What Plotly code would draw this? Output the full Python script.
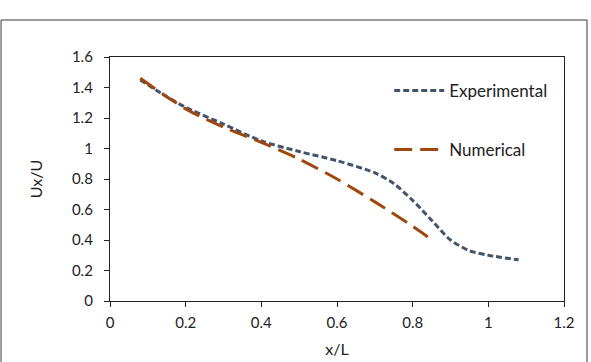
import plotly.graph_objects as go

exp_x = [0.08, 0.15, 0.2, 0.3, 0.4, 0.5, 0.6, 0.7, 0.75, 0.8, 0.85, 0.9, 0.95, 1.0, 1.08]
exp_y = [1.45, 1.34, 1.27, 1.16, 1.05, 0.98, 0.92, 0.84, 0.77, 0.66, 0.53, 0.40, 0.33, 0.30, 0.27]

num_x = [0.08, 0.2, 0.3, 0.4, 0.5, 0.6, 0.7, 0.8, 0.84]
num_y = [1.46, 1.26, 1.14, 1.04, 0.93, 0.80, 0.65, 0.49, 0.42]

x_ticks = [0, 0.2, 0.4, 0.6, 0.8, 1, 1.2]
x_labels = ["0", "0.2", "0.4", "0.6", "0.8", "1", "1.2"]
y_ticks = [0, 0.2, 0.4, 0.6, 0.8, 1, 1.2, 1.4, 1.6]
y_labels = ["0", "0.2", "0.4", "0.6", "0.8", "1", "1.2", "1.4", "1.6"]

FONT = "Lato, 'Open Sans', sans-serif"

fig = go.Figure()
fig.add_trace(go.Scatter(
    x=exp_x, y=exp_y, mode="lines", name="Experimental",
    line=dict(color="#44546A", width=3, dash="6px,3px", shape="spline", smoothing=0.8),
    legendgroup="a",
))
fig.add_trace(go.Scatter(
    x=num_x, y=num_y, mode="lines", name="Numerical",
    line=dict(color="#9E480E", width=3, dash="18px,8px", shape="spline", smoothing=0.8),
    legendgroup="b",
))

fig.update_layout(
    width=591, height=362,
    margin=dict(l=110, r=27, t=57, b=61, autoexpand=False),
    paper_bgcolor="white", plot_bgcolor="white",
    font=dict(family=FONT, size=15, color="#222222"),
    showlegend=True,
    legend=dict(x=0.615, y=0.935, xanchor="left", yanchor="top",
                bgcolor="rgba(0,0,0,0)", tracegroupgap=34, itemwidth=50,
                font=dict(family=FONT, size=17, color="#222222")),
    xaxis=dict(range=[0, 1.2], tickvals=x_ticks, ticktext=x_labels, automargin=False,
               showgrid=False, zeroline=False, showline=True, linecolor="#222222",
               linewidth=1.3, mirror=True, ticks="outside", ticklen=5, tickcolor="#222222",
               ticklabelstandoff=3,
               title=dict(text="x/L", standoff=13, font=dict(family=FONT, size=16))),
    yaxis=dict(range=[0, 1.6], tickvals=y_ticks, ticktext=y_labels, automargin=False,
               showgrid=False, zeroline=False, showline=True, linecolor="#222222",
               linewidth=1.3, mirror=True, ticks="outside", ticklen=5, tickcolor="#222222",
               ticklabelstandoff=8,
               title=dict(text="Ux/U", standoff=25, font=dict(family=FONT, size=16))),
)

fig.add_shape(type="rect", xref="paper", yref="paper",
              x0=-0.240, x1=1.0507, y0=-0.27, y1=1.1516,
              line=dict(color="#3a3a3a", width=1), layer="below")

fig.write_html("out.html")
